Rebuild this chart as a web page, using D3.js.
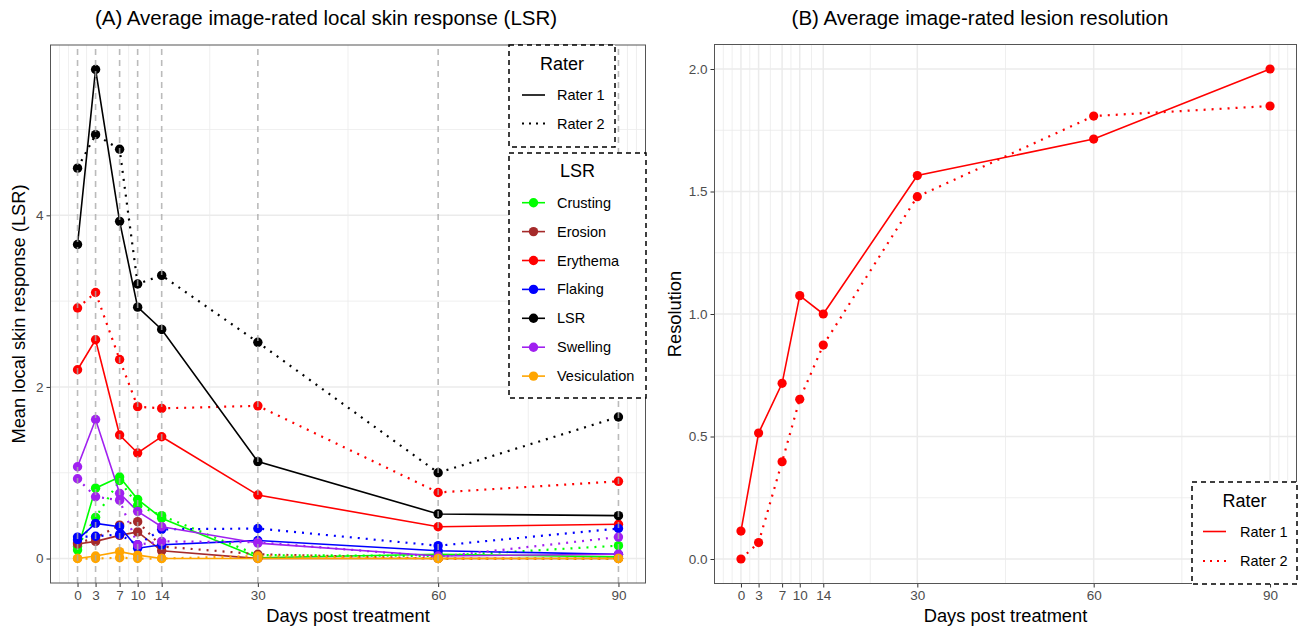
<!DOCTYPE html>
<html>
<head>
<meta charset="utf-8">
<script src="https://cdn.jsdelivr.net/npm/d3@7"></script>
<style>
  body { margin: 0; background: #fff; }
  svg { display: block; font-family: "Liberation Sans", Arial, Helvetica, sans-serif; }
</style>
</head>
<body>
<svg id="chart" width="1298" height="628"></svg>
<script>
// ---- data -------------------------------------------------------------
const days = [0, 3, 7, 10, 14, 30, 60, 90];
const dayTicks = [0, 3, 7, 10, 14, 30, 60, 90];
const dayMinor = [-3, -1.5, 1.5, 5, 8.5, 12, 22, 45, 75, 91.5, 93];

const lsrCategories = ["Crusting", "Erosion", "Erythema", "Flaking", "LSR", "Swelling", "Vesiculation"];
const lsrColors = ["#00ff00", "#a52a2a", "#ff0000", "#0000ff", "#000000", "#a020f0", "#ffa500"];
const raters = ["Rater 1", "Rater 2"];

// mean image-rated scores, one array per category and rater
const crustingR1     = [0.10, 0.82, 0.95, 0.69, 0.47, 0.01, 0.05, 0.02];
const crustingR2     = [0.14, 0.48, 0.91, 0.62, 0.50, 0.04, 0.03, 0.15];
const erosionR1      = [0.17, 0.20, 0.27, 0.31, 0.09, 0.00, 0.00, 0.00];
const erosionR2      = [0.18, 0.24, 0.39, 0.43, 0.14, 0.05, 0.00, 0.00];
const erythemaR1     = [2.20, 2.55, 1.44, 1.23, 1.42, 0.74, 0.37, 0.40];
const erythemaR2     = [2.92, 3.10, 2.32, 1.77, 1.75, 1.78, 0.77, 0.90];
const flakingR1      = [0.22, 0.41, 0.37, 0.12, 0.16, 0.21, 0.09, 0.05];
const flakingR2      = [0.25, 0.26, 0.28, 0.16, 0.34, 0.35, 0.15, 0.35];
const lsrR1          = [3.66, 5.70, 3.93, 2.93, 2.67, 1.13, 0.52, 0.50];
const lsrR2          = [4.55, 4.94, 4.77, 3.20, 3.30, 2.52, 1.00, 1.65];
const swellingR1     = [1.07, 1.62, 0.76, 0.55, 0.37, 0.18, 0.03, 0.05];
const swellingR2     = [0.93, 0.72, 0.68, 0.16, 0.20, 0.19, 0.02, 0.25];
const vesiculationR1 = [0.00, 0.03, 0.08, 0.04, 0.00, 0.00, 0.00, 0.00];
const vesiculationR2 = [0.00, 0.00, 0.01, 0.00, 0.00, 0.03, 0.00, 0.00];

const lsrTicks = [0, 2, 4];
const lsrMinor = [1, 3, 5];

// lesion resolution per rater
const resolutionR1 = [0.114, 0.514, 0.717, 1.075, 1.000, 1.565, 1.714, 2.000];
const resolutionR2 = [0.000, 0.067, 0.397, 0.652, 0.873, 1.479, 1.808, 1.849];
const resTicks = [0, 0.5, 1, 1.5, 2];
const resMinor = [0.25, 0.75, 1.25, 1.75];

// ---- assemble series ---------------------------------------------------
const lsrByRater = [
  [crustingR1, erosionR1, erythemaR1, flakingR1, lsrR1, swellingR1, vesiculationR1],
  [crustingR2, erosionR2, erythemaR2, flakingR2, lsrR2, swellingR2, vesiculationR2]
];
const lsrSeries = [];
lsrCategories.forEach((cat, ci) => {
  raters.forEach((r, ri) => {
    lsrSeries.push({
      category: cat, rater: r, color: lsrColors[ci],
      values: days.map((d, i) => ({ day: d, value: lsrByRater[ri][ci][i] }))
    });
  });
});
const resSeries = [resolutionR1, resolutionR2].map((arr, ri) => ({
  rater: raters[ri], color: "#ff0000",
  values: days.map((d, i) => ({ day: d, value: arr[i] }))
}));

// ---- styling constants ---------------------------------------------------
const GRID = "#ebebeb";
const DOTS = "2,6";
const dashFor = r => r === "Rater 1" ? null : DOTS;
const widthFor = r => r === "Rater 1" ? 1.6 : 2.2;
const svg = d3.select("#chart");

// ---- scales ------------------------------------------------------------
const xA = d3.scaleLinear().domain([-4.5, 94.5]).range([50.5, 645.5]);
const yA = d3.scaleLinear().domain([-0.285, 5.985]).range([583, 45]);
const xB = d3.scaleLinear().domain([-4.5, 94.5]).range([714.5, 1296.5]);
const yB = d3.scaleLinear().domain([-0.1, 2.1]).range([583.5, 44.5]);

function drawFrame(x, y, yTicks, yMinorTicks, yFormat, majorX) {
  const g = svg.append("g");
  const [x0, x1] = x.range();
  const [y0, y1] = y.range();
  // grid
  g.selectAll(".xm").data(dayMinor).join("line")
    .attr("x1", d => x(d)).attr("x2", d => x(d)).attr("y1", y0).attr("y2", y1)
    .attr("stroke", GRID).attr("stroke-width", 0.8);
  g.selectAll(".ym").data(yMinorTicks).join("line")
    .attr("x1", x0).attr("x2", x1).attr("y1", d => y(d)).attr("y2", d => y(d))
    .attr("stroke", GRID).attr("stroke-width", 0.8);
  if (majorX) {
    g.selectAll(".xM").data(dayTicks).join("line")
      .attr("x1", d => x(d)).attr("x2", d => x(d)).attr("y1", y0).attr("y2", y1)
      .attr("stroke", GRID).attr("stroke-width", 1.5);
  }
  g.selectAll(".yM").data(yTicks).join("line")
    .attr("x1", x0).attr("x2", x1).attr("y1", d => y(d)).attr("y2", d => y(d))
    .attr("stroke", GRID).attr("stroke-width", 1.5);

  // axes
  const ax = svg.append("g").attr("transform", `translate(0,${y0})`)
    .call(d3.axisBottom(x).tickValues(dayTicks).tickSize(4).tickPadding(3).tickFormat(d3.format("d")));
  const ay = svg.append("g").attr("transform", `translate(${x0},0)`)
    .call(d3.axisLeft(y).tickValues(yTicks).tickSize(4).tickPadding(3).tickFormat(yFormat));
  [ax, ay].forEach(a => {
    a.select(".domain").remove();
    a.selectAll(".tick line").attr("stroke", "#333").attr("stroke-width", 1);
    a.selectAll(".tick text").attr("fill", "#4d4d4d").attr("font-size", 13.5)
      .attr("font-family", "Liberation Sans, Arial, sans-serif");
  });
  return g;
}

function drawBorder(x, y) {
  const [x0, x1] = x.range();
  const [y0, y1] = y.range();
  svg.append("rect").attr("x", x0).attr("y", y1).attr("width", x1 - x0).attr("height", y0 - y1)
    .attr("fill", "none").attr("stroke", "#555").attr("stroke-width", 1);
}

// ---- panel A ----------------------------------------------------------
drawFrame(xA, yA, lsrTicks, lsrMinor, d3.format("d"), false);

const lineA = d3.line().x(d => xA(d.day)).y(d => yA(d.value));
const gA = svg.append("g");
gA.selectAll("path").data(lsrSeries).join("path")
  .attr("d", d => lineA(d.values))
  .attr("fill", "none").attr("stroke", d => d.color)
  .attr("stroke-width", d => widthFor(d.rater))
  .attr("stroke-dasharray", d => dashFor(d.rater));
lsrSeries.forEach(s => {
  gA.append("g").selectAll("circle").data(s.values).join("circle")
    .attr("cx", d => xA(d.day)).attr("cy", d => yA(d.value)).attr("r", 4.7)
    .attr("fill", s.color);
});
// dashed guides at each visit day
svg.append("g").selectAll("line").data(days).join("line")
  .attr("x1", d => xA(d)).attr("x2", d => xA(d))
  .attr("y1", yA.range()[0]).attr("y2", yA.range()[1])
  .attr("stroke", "#aaaaaa").attr("stroke-opacity", 0.8).attr("stroke-width", 1.6)
  .attr("stroke-dasharray", "6,5");
drawBorder(xA, yA);

// ---- panel B ----------------------------------------------------------
drawFrame(xB, yB, resTicks, resMinor, d3.format(".1f"), true);
const lineB = d3.line().x(d => xB(d.day)).y(d => yB(d.value));
const gB = svg.append("g");
gB.selectAll("path").data(resSeries).join("path")
  .attr("d", d => lineB(d.values))
  .attr("fill", "none").attr("stroke", d => d.color)
  .attr("stroke-width", d => widthFor(d.rater))
  .attr("stroke-dasharray", d => dashFor(d.rater));
resSeries.forEach(s => {
  gB.append("g").selectAll("circle").data(s.values).join("circle")
    .attr("cx", d => xB(d.day)).attr("cy", d => yB(d.value)).attr("r", 4.6)
    .attr("fill", s.color);
});
drawBorder(xB, yB);

// ---- titles -------------------------------------------------------------
function text(x, y, str, size, opts = {}) {
  const t = svg.append("text").attr("x", x).attr("y", y).text(str)
    .attr("font-size", size).attr("fill", opts.fill || "#000")
    .attr("text-anchor", opts.anchor || "start");
  if (opts.rotate) t.attr("transform", `rotate(-90,${x},${y})`);
  return t;
}
text(326, 25, "(A) Average image-rated local skin response (LSR)", 20.5, { anchor: "middle" });
text(980, 25, "(B) Average image-rated lesion resolution", 20.5, { anchor: "middle" });
text(d3.mean(xA.range()), 622, "Days post treatment", 18.3, { anchor: "middle" });
text(d3.mean(xB.range()), 622, "Days post treatment", 18.3, { anchor: "middle" });
text(25, d3.mean(yA.range()), "Mean local skin response (LSR)", 18.3, { anchor: "middle", rotate: true });
text(681, d3.mean(yB.range()), "Resolution", 18.3, { anchor: "middle", rotate: true });

// ---- legends ------------------------------------------------------------
function legendBox(x0, y0, x1, y1) {
  svg.append("rect").attr("x", x0).attr("y", y0).attr("width", x1 - x0).attr("height", y1 - y0)
    .attr("fill", "#fff").attr("stroke", "#000").attr("stroke-width", 1.5)
    .attr("stroke-dasharray", "5,4");
}
function raterLegend(x0, y0, x1, y1, color, titleY, rowY, keyX, labelX) {
  legendBox(x0, y0, x1, y1);
  text((x0 + x1) / 2, titleY, "Rater", 18, { anchor: "middle" });
  raters.forEach((r, i) => {
    const yy = rowY[i];
    svg.append("line").attr("x1", keyX).attr("x2", keyX + 23).attr("y1", yy).attr("y2", yy)
      .attr("stroke", color).attr("stroke-width", widthFor(r))
      .attr("stroke-dasharray", dashFor(r) ? "2,5" : null);
    text(labelX, yy + 5, r, 14.5);
  });
}
raterLegend(509, 45, 615, 147, "#000", 70, [95, 123.5], 522, 557);

legendBox(509, 153, 646, 398);
text(577.5, 176.5, "LSR", 18, { anchor: "middle" });
lsrCategories.forEach((c, i) => {
  const yy = 202.7 + i * 28.9;
  svg.append("line").attr("x1", 522).attr("x2", 545).attr("y1", yy).attr("y2", yy)
    .attr("stroke", lsrColors[i]).attr("stroke-width", 1.6);
  svg.append("circle").attr("cx", 533.5).attr("cy", yy).attr("r", 4.7).attr("fill", lsrColors[i]);
  text(557, yy + 5, c, 14.5);
});

raterLegend(1192, 482, 1297, 584, "#ff0000", 506.5, [531.5, 561], 1203, 1240);
</script>
</body>
</html>
